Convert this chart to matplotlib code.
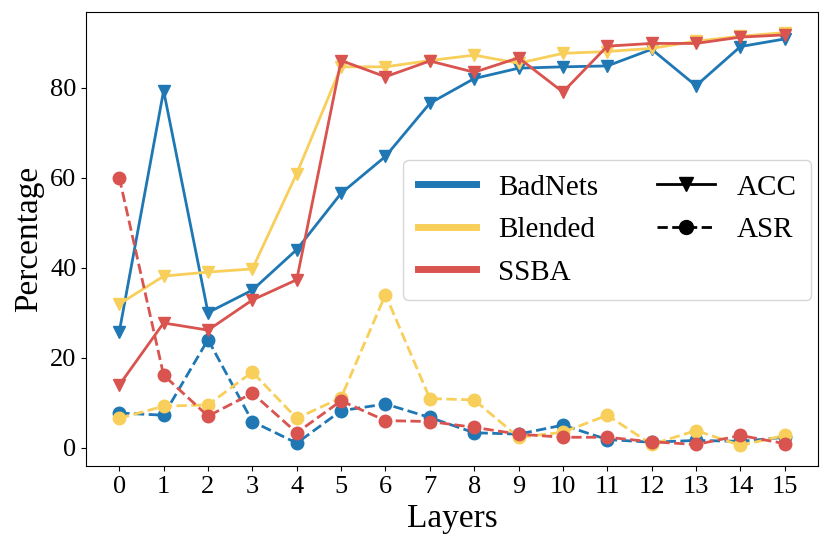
import matplotlib
matplotlib.use("Agg")
import matplotlib.pyplot as plt
from matplotlib.lines import Line2D

plt.rcParams['font.family'] = ['Liberation Serif', 'DejaVu Serif']
plt.rcParams['mathtext.fontset'] = 'stix'

layers = list(range(16))
methods = ["BadNets", "Blended", "SSBA"]
colors = ["#1f77b4", "#f7cf5a", "#d9534f"]

badnets_acc = [25.7, 79.3, 30.0, 35.0, 44.0, 56.5, 64.7, 76.5, 82.0, 84.3, 84.6, 84.8, 88.5, 80.4, 89.1, 90.8]
blended_acc = [31.9, 38.1, 39.0, 39.7, 60.9, 84.6, 84.6, 86.0, 87.2, 85.4, 87.6, 88.0, 88.7, 90.3, 91.4, 92.2]
ssba_acc = [13.9, 27.7, 26.1, 32.8, 37.3, 86.0, 82.4, 85.9, 83.4, 86.6, 79.0, 89.2, 89.8, 89.8, 91.2, 91.7]

badnets_asr = [7.7, 7.2, 24.0, 5.8, 1.0, 8.2, 9.7, 6.7, 3.3, 3.0, 5.0, 1.8, 1.2, 1.6, 1.4, 2.3]
blended_asr = [6.5, 9.2, 9.5, 16.8, 6.5, 11.1, 34.0, 10.9, 10.6, 2.3, 3.4, 7.2, 0.7, 3.8, 0.5, 2.7]
ssba_asr = [60.0, 16.1, 7.0, 12.1, 3.3, 10.4, 6.0, 5.8, 4.5, 3.0, 2.3, 2.3, 1.3, 0.7, 2.7, 0.9]

accs = [badnets_acc, blended_acc, ssba_acc]
asrs = [badnets_asr, blended_asr, ssba_asr]

fig = plt.figure(figsize=(8.3, 5.5), dpi=100)
ax = fig.add_axes([0.1036, 0.1527, 0.882, 0.8255])

for c, acc, asr in zip(colors, accs, asrs):
    ax.plot(layers, acc, color=c, linestyle='-', marker='v', markersize=9, linewidth=2)
    ax.plot(layers, asr, color=c, linestyle='--', marker='o', markersize=9, linewidth=2)

ax.set_xticks(layers)
ax.set_xticklabels([str(l) for l in layers])
ax.set_yticks([0, 20, 40, 60, 80])
ax.tick_params(labelsize=19)
ax.set_xlabel("Layers", fontsize=24, labelpad=4)
ax.set_ylabel("Percentage", fontsize=24)

handles = [Line2D([0], [0], color=c, linewidth=5) for c in colors]
labels = list(methods)
handles += [Line2D([0], [0], color='black', linestyle='-', marker='v', markersize=10, linewidth=2),
            Line2D([0], [0], color='black', linestyle='--', marker='o', markersize=10, linewidth=2),
            Line2D([], [], alpha=0)]
labels += ["ACC", "ASR", ""]
ax.legend(handles, labels, ncol=2, loc='center right', fontsize=21, handlelength=2.0,
          bbox_to_anchor=(0.991, 0.52), borderaxespad=0, columnspacing=2.0, handletextpad=0.75,
          labelspacing=0.55, borderpad=0.5)

fig.savefig("out.png", dpi=100)
